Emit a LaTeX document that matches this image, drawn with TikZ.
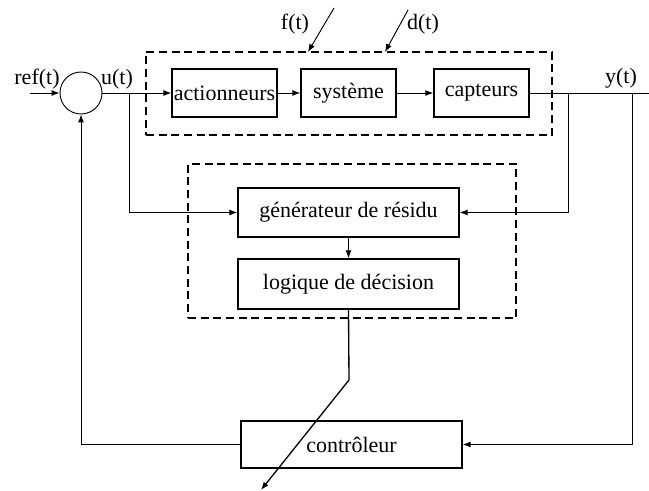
\documentclass[tikz,border=0pt]{standalone}
\usepackage{fontspec}
\setmainfont{Liberation Serif}
\usetikzlibrary{arrows.meta,positioning}

\begin{document}
\begin{tikzpicture}[
		x=0.75pt, y=-0.75pt,
		font=\fontsize{16.5pt}{18pt}\selectfont,
		box/.style={draw, line width=1pt, inner sep=0pt, minimum height=36pt},
		zone/.style={draw, line width=1.4pt, dash pattern=on 6pt off 3.5pt, inner sep=0pt},
		arr/.style={-{Latex[length=6pt, width=4.5pt]}, line width=0.7pt},
		wire/.style={line width=0.7pt}
	]
	\useasboundingbox (0,0) rectangle (649,491);

	\node[zone, minimum width=304.5pt, minimum height=62.25pt] (plant) at (349,93.5) {};
	\node[zone, minimum width=246pt, minimum height=115.5pt] (diag) at (352,241) {};

	\node[draw, circle, line width=0.7pt, minimum size=31.5pt, inner sep=0pt] (sum) at (81,93) {};
	\node[box, minimum width=78.75pt] (act) at (224.5,93) {actionneurs};
	\node[box, minimum width=71.25pt] (sys) at (348.5,93) {système};
	\node[box, minimum width=71.25pt] (cap) at (481.5,93) {capteurs};

	\node[box, minimum width=165.75pt, minimum height=36.75pt] (gen) at (348.5,212.5) {générateur de résidu};
	\node[box, minimum width=165.75pt, minimum height=37.5pt] (logic) at (348.5,284) {logique de décision};
	\node[box, minimum width=165.75pt, minimum height=35.25pt] (ctrl) at (351.5,444.5) {contrôleur};

	\node (ref) at (37,79) {ref(t)};
	\node (u) at (117,79) {u(t)};
	\node (y) at (621,78) {y(t)};
	\node (f) at (295,24) {f(t)};
	\node (d) at (423,24) {d(t)};

	\coordinate (refin) at (30,93);
	\coordinate (ubr) at (129,93);
	\coordinate (ybr1) at (568,93);
	\coordinate (ybr2) at (632,93);
	\coordinate (yend) at (649,93);
	\coordinate (fin) at (334,8);
	\coordinate (fout) at (308,52);
	\coordinate (din) at (408,10);
	\coordinate (dout) at (385,52);
	\coordinate (bend) at (349,380);
	\coordinate (alarm) at (261,490);

	\draw[arr] (refin) -- (sum);
	\draw[arr] (sum) -- (act);
	\draw[arr] (act) -- (sys);
	\draw[arr] (sys) -- (cap);
	\draw[wire] (cap) -- (yend);

	\draw[arr] (fin) -- (fout);
	\draw[arr] (din) -- (dout);

	\draw[arr] (ubr) |- (gen);
	\draw[arr] (ybr1) |- (gen);
	\draw[arr] (gen) -- (logic);
	\draw[arr, line width=1pt] (logic.south) -- (bend) -- (alarm);

	\draw[arr] (ybr2) |- (ctrl);
	\draw[arr] (ctrl) -| (sum);
\end{tikzpicture}
\end{document}
